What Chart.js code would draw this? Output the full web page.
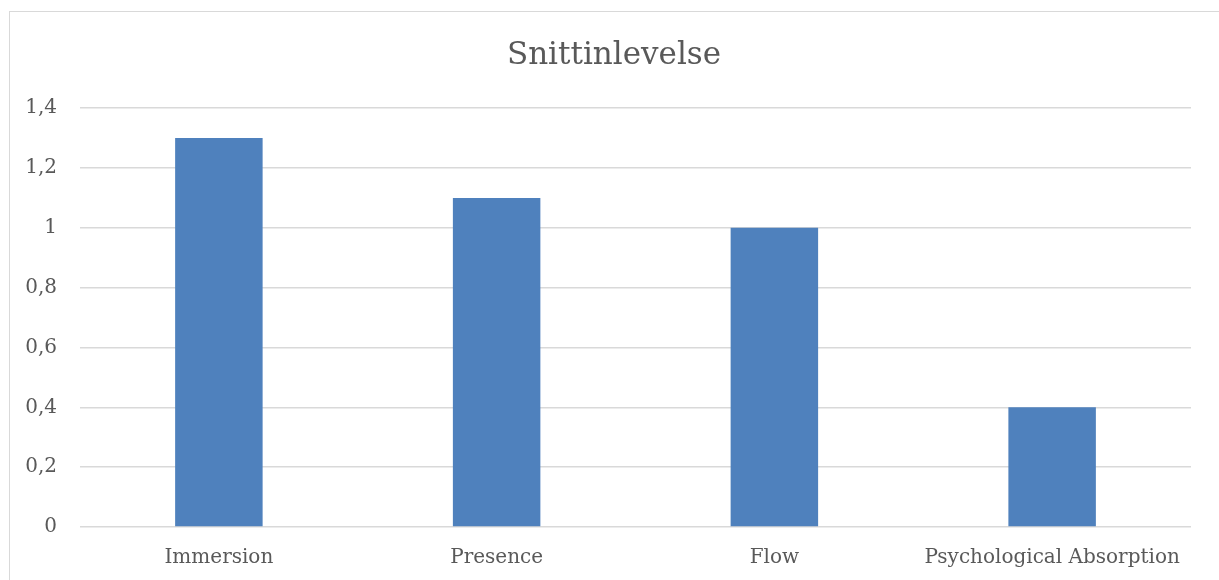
<!DOCTYPE html>
<html>
<head>
<meta charset="utf-8">
<script src="https://cdn.jsdelivr.net/npm/chart.js@4.4.1/dist/chart.umd.min.js"></script>
<style>
  html, body { margin: 0; padding: 0; background: #ffffff; }
  #frame {
    position: absolute; left: 9px; top: 11px;
    width: 1240px; height: 600px;
    border: 1px solid #d9d9d9; box-sizing: border-box;
  }
  #wrap { position: absolute; left: 0; top: 0; width: 1219px; height: 580px; }
</style>
</head>
<body>
<div id="frame"></div>
<div id="wrap"><canvas id="chart" width="1219" height="580"></canvas></div>
<script>
const chartTitle = 'Snittinlevelse';
const categories = ['Immersion', 'Presence', 'Flow', 'Psychological Absorption'];
const values = [1.3, 1.1, 1.0, 0.4];
const yTicks = [0, 0.2, 0.4, 0.6, 0.8, 1, 1.2, 1.4];

const FONT = '"DejaVu Serif", "Liberation Serif", serif';
const TEXT = '#595959';

// centre the title across the framed panel rather than the plot
const titleCentre = {
  id: 'titleCentre',
  afterLayout(chart) {
    const t = chart.titleBlock;
    if (t) { t.left = 9; t.right = chart.width; }
  }
};

new Chart(document.getElementById('chart'), {
  type: 'bar',
  data: {
    labels: categories,
    datasets: [{
      data: values,
      backgroundColor: '#4f81bd',
      borderWidth: 0,
      categoryPercentage: 1,
      barPercentage: 0.315
    }]
  },
  options: {
    responsive: false,
    animation: false,
    layout: { padding: { left: 0, right: 28, top: 0, bottom: 0 } },
    plugins: {
      legend: { display: false },
      tooltip: { enabled: false },
      title: {
        display: true,
        text: chartTitle,
        color: TEXT,
        font: { family: FONT, size: 31, weight: 'normal', lineHeight: 1.2 },
        padding: { top: 37, bottom: 34 }
      }
    },
    scales: {
      x: {
        grid: { display: false, drawTicks: false },
        border: { display: false },
        ticks: { color: TEXT, font: { family: FONT, size: 20 }, padding: 19, maxRotation: 0, autoSkip: false },
        afterFit: s => { s.height = 53; }
      },
      y: {
        min: 0, max: 1.4,
        afterBuildTicks: s => { s.ticks = yTicks.map(v => ({ value: v })); },
        grid: { color: '#d9d9d9', lineWidth: 1.5, drawTicks: false },
        border: { display: false },
        ticks: {
          color: TEXT,
          font: { family: FONT, size: 20 },
          padding: 23,
          callback: v => String(v).replace('.', ',')
        },
        afterFit: s => { s.width = 80; }
      }
    }
  },
  plugins: [titleCentre]
});
</script>
</body>
</html>
